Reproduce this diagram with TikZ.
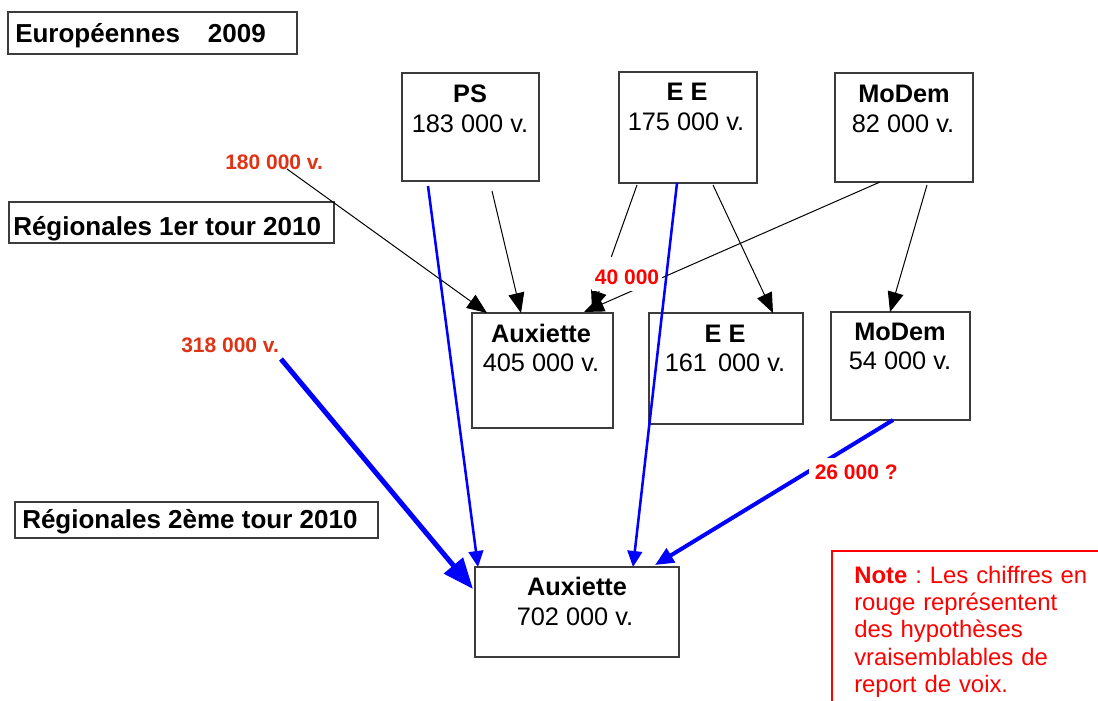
\documentclass[tikz,border=0pt]{standalone}
\usepackage{fontspec}
\setmainfont{Liberation Sans}
\usetikzlibrary{arrows.meta,calc}
\definecolor{lblred}{RGB}{224,50,20}
\definecolor{fullred}{RGB}{255,0,0}
\definecolor{fullblue}{RGB}{0,0,255}
\definecolor{boxgray}{RGB}{60,60,60}
\frenchspacing
\begin{document}
\begin{tikzpicture}[x=0.75pt,y=-0.75pt,
  box/.style={draw=boxgray, line width=0.9pt, anchor=north west, inner sep=0pt, outer sep=0pt},
  ttl/.style={font=\bfseries\fontsize{19}{22}\selectfont, anchor=base, inner sep=0pt},
  val/.style={font=\fontsize{19}{22}\selectfont, anchor=base, inner sep=0pt},
  lbl/.style={font=\bfseries\fontsize{19.5}{23}\selectfont, anchor=base west, inner sep=0pt},
  rlbl/.style={font=\bfseries\fontsize{15.75}{18}\selectfont, anchor=base west, inner sep=0pt},
  thinarrow/.style={draw=black, line width=0.75pt, -{Triangle[length=15pt,width=12pt]}},
  bluearrow/.style={draw=fullblue, line width=1.9pt, -{Triangle[length=12pt,width=11pt]}},
]
\useasboundingbox (0,0) rectangle (1098,700);
\fill[white] (0,0) rectangle (1098,700);
\begin{scope}
\clip (0,0) rectangle (1098,700);

% row labels
\node[box, minimum width=289*0.75pt, minimum height=42*0.75pt] (eubox) at (8,12) {};
\node[lbl] (eutxt) at (15,42) {Européennes\hspace{21pt}2009};
\node[box, minimum width=325*0.75pt, minimum height=41*0.75pt] (r1box) at (9,202) {};
\node[lbl] (r1txt) at (13,235) {Régionales 1er tour 2010};
\node[box, minimum width=363*0.75pt, minimum height=36*0.75pt] (r2box) at (15,502) {};
\node[lbl] (r2txt) at (22,528) {Régionales 2ème tour 2010};

% boxes
\node[box, minimum width=137*0.75pt, minimum height=108*0.75pt] (ps) at (402,73) {};
\node[ttl] (psT) at (470,102) {PS};
\node[val] (psV) at (470,132) {183 000 v.};

\node[box, minimum width=138*0.75pt, minimum height=111*0.75pt] (ee) at (619,72) {};
\node[ttl] (eeT) at (687,100) {E E};
\node[val] (eeV) at (686,130) {175 000 v.};

\node[box, minimum width=138*0.75pt, minimum height=109*0.75pt] (mo) at (835,73) {};
\node[ttl] (moT) at (904,102) {MoDem};
\node[val] (moV) at (903,132) {82 000 v.};

\node[box, minimum width=141*0.75pt, minimum height=115*0.75pt] (aux1) at (472,313) {};
\node[ttl] (aux1T) at (541,342) {Auxiette};
\node[val] (aux1V) at (541,371) {405 000 v.};

\node[box, minimum width=154*0.75pt, minimum height=111*0.75pt] (ee2) at (649,313) {};
\node[ttl] (ee2T) at (725,342) {E E};
\node[val] (ee2V) at (725,371) {161\hspace{3pt} 000 v.};

\node[box, minimum width=139*0.75pt, minimum height=108*0.75pt] (mo2) at (831,312) {};
\node[ttl] (mo2T) at (900,340) {MoDem};
\node[val] (mo2V) at (900,369) {54 000 v.};

\node[box, minimum width=204*0.75pt, minimum height=90*0.75pt] (fin) at (475,567) {};
\node[ttl] (finT) at (577,595) {Auxiette};
\node[val] (finV) at (575,625) {702 000 v.};

% red labels (free ends)
\node[rlbl, text=lblred] (l180) at (225,169) {180 000 v.};
\node[rlbl, text=lblred] (l318) at (181,352) {318 000 v.};

% black arrows
\draw[thinarrow] ($(l180.base west)+(62,0)$) -- ($(aux1.north west)+(15,0)$);
\draw[thinarrow] ($(ps.south west)+(90,10)$) -- ($(aux1.north west)+(49,0)$);
\draw[thinarrow] ($(ee.south west)+(18,2)$) -- ($(aux1.north west)+(120,-2)$);
\draw[thinarrow] ($(mo.south west)+(45,0)$) -- ($(aux1.north west)+(112,-1)$);
\draw[thinarrow] ($(ee.south west)+(94,2)$) -- ($(ee2.north west)+(124,0)$);
\draw[thinarrow] ($(mo.south west)+(92,3)$) -- ($(mo2.north west)+(59,0)$);

% blue arrows
\draw[bluearrow] ($(ps.south west)+(26,5)$) -- ($(fin.north west)+(3,0)$);
\draw[bluearrow] ($(ee.south west)+(58,0)$) -- ($(fin.north west)+(158,0)$);
\draw[bluearrow, line width=3.75pt, -{Triangle[length=23pt,width=18pt]}] ($(l318.base west)+(100,7)$) -- ($(fin.north west)+(-2,22)$);
\draw[bluearrow, line width=3pt, -{Triangle[length=14pt,width=12pt]}] ($(mo2.south west)+(62,0)$) -- ($(fin.north west)+(180,-2)$);

% labels covering lines
\node[rlbl, text=fullred, fill=white, inner xsep=2pt, inner ysep=0pt, text height=27*0.75pt, text depth=7*0.75pt] (l40) at (592,284) {40 000};
\node[rlbl, text=fullred, fill=white, inner sep=4.5pt] (l26) at (808.5,479) {26 000 ?};

% note
\draw[fullred, line width=1pt] (1120,551) -- (832,551) -- (832,720);
\node[text=fullred, font=\fontsize{17.9}{20.6}\selectfont, text width=250*0.75pt, align=left, anchor=base west, inner sep=0pt] (note) at (854,583)
  {\textbf{Note} : Les chiffres en\\rouge représentent\\des hypothèses\\vraisemblables de\\report de voix.};
\end{scope}
\end{tikzpicture}
\end{document}
